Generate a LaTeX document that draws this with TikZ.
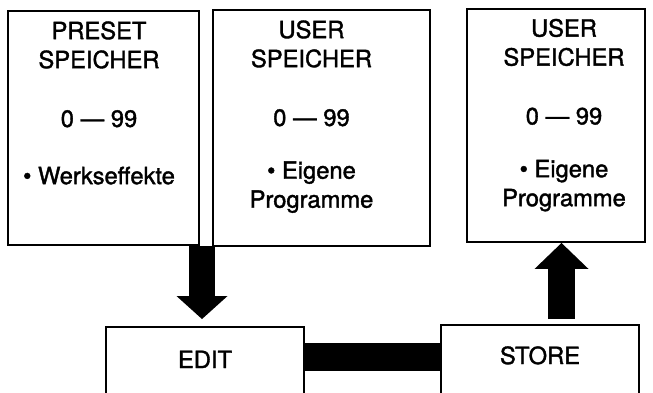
\documentclass[tikz,border=0pt]{standalone}
\usepackage{fontspec}
\setmainfont{TeX Gyre Heros}[FakeBold=1.5]
\usetikzlibrary{arrows.meta,positioning}

\begin{document}
\begin{tikzpicture}[
  font=\fontsize{13.5pt}{16.5pt}\selectfont,
  membox/.style={draw,line width=1.1pt,inner sep=0pt},
  memtext/.style={align=center,anchor=north,inner sep=0pt},
  bigdown/.style={line width=5.2mm,
                  -{Triangle[width=10.2mm,length=4.6mm,line width=0pt]}},
  bigup/.style={line width=5.4mm,
                -{Triangle[width=10.8mm,length=5.2mm,line width=0pt]}},
  link/.style={line width=5.6mm},
]

\useasboundingbox (0mm,0mm) rectangle (130.6mm,78.4mm);
\clip (0mm,0mm) rectangle (130.6mm,78.4mm);

% ---- top row: the program memories ----
\node[membox,minimum width=38.2mm,minimum height=46.8mm] (preset) at (20.7mm,52.8mm) {};
\node[memtext] at ([xshift=-0.9mm,yshift=-2.2mm]preset.north)
     {PRESET\\SPEICHER\\[17pt]0 — 99\\[16pt]• Werkseffekte};

\node[membox,minimum width=43.4mm,minimum height=47.2mm] (usera) at (64.3mm,52.8mm) {};
\node[memtext] at ([xshift=-2mm,yshift=-2.2mm]usera.north)
     {USER\\SPEICHER\\[17pt]0 — 99\\[13.5pt]• Eigene\\Programme};

\node[membox,minimum width=35.6mm,minimum height=46.6mm] (userb) at (111.2mm,53.3mm) {};
\node[memtext] at ([xshift=1.6mm,yshift=-2.1mm]userb.north)
     {USER\\SPEICHER\\[17pt]0 — 99\\[13.5pt]• Eigene\\Programme};

% ---- bottom row: edit and store, cut off by the page edge ----
\node[membox,minimum width=39.6mm,minimum height=19mm] (edit) at (41mm,3.5mm) {};
\node[anchor=base] (edittxt) at ([yshift=-8.4mm]edit.north) {EDIT};

\node[membox,minimum width=39.6mm,minimum height=19.4mm] (store) at (108mm,3.7mm) {};
\node[anchor=base] (storetxt) at ([yshift=-8mm]store.north) {STORE};

% preset memory goes into edit, store writes back to the user memory
\draw[bigdown] ([xshift=-0.6mm]edit.north |- preset.south)
      -- ([xshift=-0.6mm,yshift=1.4mm]edit.north);
\draw[bigup] ([xshift=4.3mm,yshift=1mm]store.north)
      -- ([xshift=4.3mm]store.north |- userb.south);

% edit and store are joined by a solid bar
\coordinate (barline) at (0mm,7mm);
\draw[link] (edit.east |- barline) -- (store.west |- barline);

\end{tikzpicture}
\end{document}
